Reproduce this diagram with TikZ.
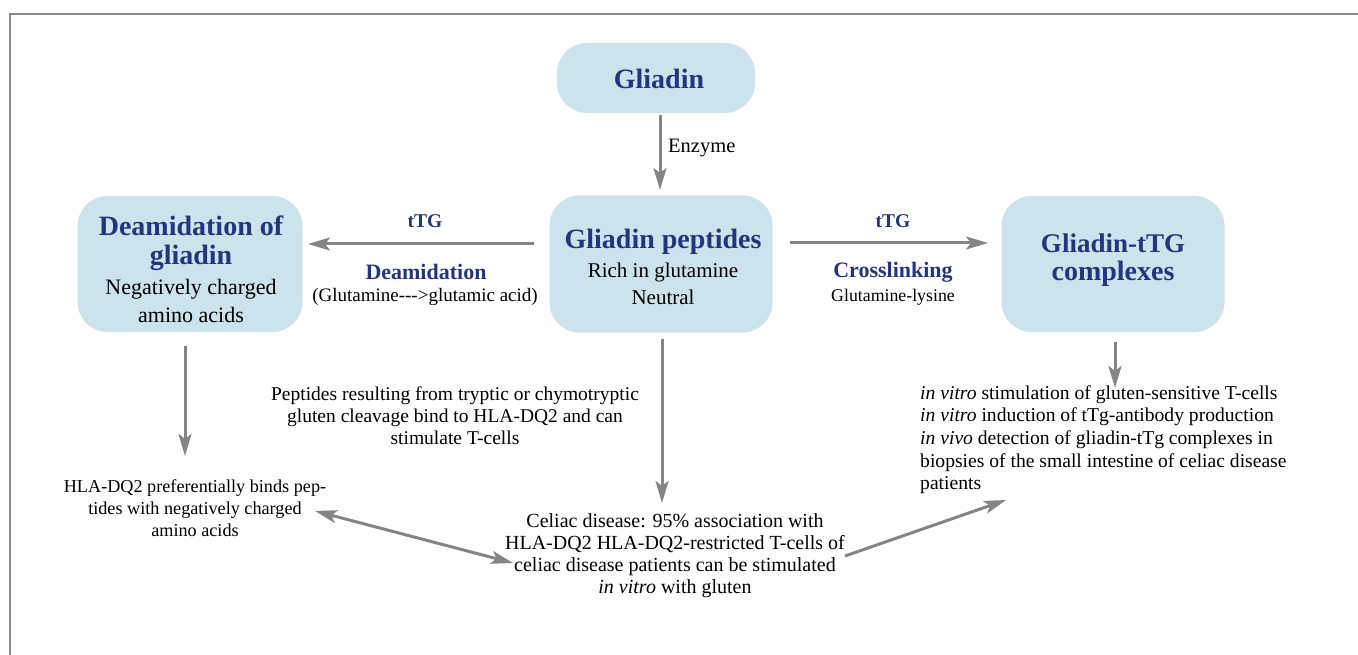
\documentclass[tikz,border=0pt]{standalone}
\usepackage{fontspec}
\setmainfont{Liberation Serif}
\usetikzlibrary{arrows.meta}
\definecolor{boxfill}{HTML}{CDE3EB}
\definecolor{titleblue}{HTML}{223580}
\definecolor{arrowgray}{HTML}{858585}
\definecolor{framegray}{HTML}{8C8C8C}
\begin{document}
\begin{tikzpicture}[x=1pt,y=-1pt,
  box/.style={fill=boxfill, rounded corners=30pt, inner sep=0pt, align=center},
  ttl/.style={font=\rmfamily\bfseries\fontsize{28}{32}\selectfont, text=titleblue},
  lbl/.style={font=\rmfamily\bfseries\fontsize{#1}{24}\selectfont, text=titleblue},
  txt/.style={font=\rmfamily\mdseries\fontsize{#1}{22}\selectfont, align=center, inner sep=0pt},
  arr/.style={draw=arrowgray, line width=3pt, -{Stealth[length=22pt,width=13pt,inset=5pt]}},
  darr/.style={draw=arrowgray, line width=3pt, {Stealth[length=22pt,width=13pt,inset=5pt]}-{Stealth[length=22pt,width=13pt,inset=5pt]}}
]
\useasboundingbox (0,0) rectangle (1358,655);
\draw[framegray, line width=2.2pt] (1358,14) -- (10,14) -- (10,655);

% boxes
\node[box, minimum width=198pt, minimum height=70pt] (gliadin) at (656,78) {};
\node[ttl] (gliadinT) at (659,79) {Gliadin};

\node[box, minimum width=223pt, minimum height=137pt] (pep) at (661,264) {};
\node[ttl] (pepT) at (663,242) {Gliadin peptides};
\node[txt=21] (pepA) at (663,272) {Rich in glutamine};
\node[txt=21] (pepB) at (663,297) {Neutral};

\node[box, minimum width=225pt, minimum height=136pt] (deam) at (190,264) {};
\node[ttl] (deamT) at (191,226) {Deamidation of};
\node[ttl] (deamU) at (191,258) {gliadin};
\node[txt=22] (deamA) at (191,289) {Negatively charged};
\node[txt=22] (deamB) at (191,315) {amino acids};

\node[box, minimum width=223pt, minimum height=136pt] (cplx) at (1113,264) {};
\node[ttl, font=\rmfamily\bfseries\fontsize{27}{32}\selectfont] (cplxT) at (1113,243) {Gliadin-tTG};
\node[ttl] (cplxU) at (1113,274) {complexes};

% edge labels
\node[lbl=19.5] (l1) at (425,221) {tTG};
\node[lbl=22] (l2) at (426,272) {Deamidation};
\node[txt=19] (l3) at (425,297) {(Glutamine-{}-{}->glutamic acid)};
\node[lbl=19.5] (r1) at (893,221) {tTG};
\node[lbl=22] (r2) at (893,272) {Crosslinking};
\node[txt=17.8] (r3) at (893,297) {Glutamine-lysine};
\node[txt=20.5, anchor=west] (enz) at (668,148) {Enzyme};

% text blocks
\node[txt=18.2] (hla) at (195,508) {HLA-DQ2 preferentially binds pep-\\tides with negatively charged\\amino acids};
\node[txt=19.5] (ptx) at (455,416) {Peptides resulting from tryptic or chymotryptic\\gluten cleavage bind to HLA-DQ2 and can\\stimulate T-cells};
\node[txt=20] (cel) at (675,556) {Celiac disease: 95\% association with\\HLA-DQ2 HLA-DQ2-restricted T-cells of\\celiac disease patients can be stimulated\\\textit{in vitro} with gluten};
\node[font=\rmfamily\fontsize{19.6}{22.7}\selectfont, inner sep=0pt, align=left, anchor=north west] (vit) at (920,385) {\textit{in vitro} stimulation of gluten-sensitive T-cells\\\textit{in vitro} induction of tTg-antibody production\\\textit{in vivo} detection of gliadin-tTg complexes in\\biopsies of the small intestine of celiac disease\\patients};

% connector endpoints
\coordinate (g1) at (660,115);
\coordinate (g2) at (660,190);
\coordinate (a1) at (534,244);
\coordinate (a2) at (308,244);
\coordinate (b1) at (790,243);
\coordinate (b2) at (988,243);
\coordinate (c1) at (185,346);
\coordinate (c2) at (185,456);
\coordinate (d1) at (662,339);
\coordinate (d2) at (662,503);
\coordinate (e1) at (1115,342);
\coordinate (e2) at (1115,388);
\coordinate (f1) at (315,511);
\coordinate (f2) at (513,563);
\coordinate (h1) at (845,556);
\coordinate (h2) at (1006,500);

\draw[arr] (g1) -- (g2);
\draw[arr] (a1) -- (a2);
\draw[arr] (b1) -- (b2);
\draw[arr] (c1) -- (c2);
\draw[arr] (d1) -- (d2);
\draw[arr] (e1) -- (e2);
\draw[darr] (f1) -- (f2);
\draw[arr] (h1) -- (h2);
\end{tikzpicture}
\end{document}
